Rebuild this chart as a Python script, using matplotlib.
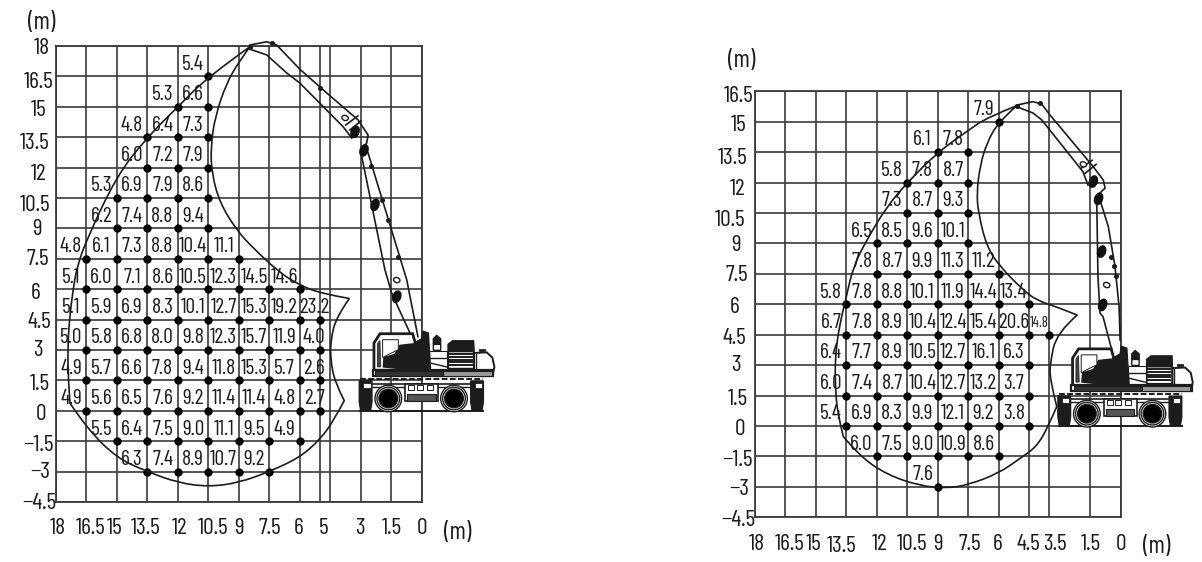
import matplotlib
matplotlib.use('Agg')
import matplotlib.pyplot as plt
from matplotlib.patches import Circle, Ellipse, PathPatch, Polygon, Rectangle
from matplotlib.path import Path
from matplotlib.transforms import ScaledTranslation

plt.rcParams['font.family'] = ['Barlow Condensed', 'Liberation Sans Narrow', 'DejaVu Sans']

# left chart - lifting capacity per row, first value sits at column index LEFT_START
LEFT_ROWS = [16.5, 15, 13.5, 12, 10.5, 9, 7.5, 6, 4.5, 3, 1.5, 0, -1.5, -3]
LEFT_COLS = [16.5, 15, 13.5, 12, 10.5, 9, 7.5, 6, 5]
LEFT_START = [4, 3, 2, 2, 1, 1, 0, 0, 0, 0, 0, 0, 1, 2]
LEFT_VALUES = [
	[5.4],
	[5.3, 6.6],
	[4.8, 6.4, 7.3],
	[6.0, 7.2, 7.9],
	[5.3, 6.9, 7.9, 8.6],
	[6.2, 7.4, 8.8, 9.4],
	[4.8, 6.1, 7.3, 8.8, 10.4, 11.1],
	[5.1, 6.0, 7.1, 8.6, 10.5, 12.3, 14.5, 14.6],
	[5.1, 5.9, 6.9, 8.3, 10.1, 12.7, 15.3, 19.2, 23.2],
	[5.0, 5.8, 6.8, 8.0, 9.8, 12.3, 15.7, 11.9, 4.0],
	[4.9, 5.7, 6.6, 7.8, 9.4, 11.8, 15.3, 5.7, 2.6],
	[4.9, 5.6, 6.5, 7.6, 9.2, 11.4, 11.4, 4.8, 2.7],
	[5.5, 6.4, 7.5, 9.0, 11.1, 9.5, 4.9],
	[6.3, 7.4, 8.9, 10.7, 9.2],
]

# right chart
RIGHT_ROWS = [15, 13.5, 12, 10.5, 9, 7.5, 6, 4.5, 3, 1.5, 0, -1.5, -3]
RIGHT_COLS = [13.5, 12, 10.5, 9, 7.5, 6, 4.5, 3.5]
RIGHT_START = [5, 3, 2, 2, 1, 1, 0, 0, 0, 0, 0, 1, 3]
RIGHT_VALUES = [
	[7.9],
	[6.1, 7.8],
	[5.8, 7.8, 8.7],
	[7.3, 8.7, 9.3],
	[6.5, 8.5, 9.6, 10.1],
	[7.8, 8.7, 9.9, 11.3, 11.2],
	[5.8, 7.8, 8.8, 10.1, 11.9, 14.4, 13.4],
	[6.7, 7.8, 8.9, 10.4, 12.4, 15.4, 20.6, 14.8],
	[6.4, 7.7, 8.9, 10.5, 12.7, 16.1, 6.3],
	[6.0, 7.4, 8.7, 10.4, 12.7, 13.2, 3.7],
	[5.4, 6.9, 8.3, 9.9, 12.1, 9.2, 3.8],
	[6.0, 7.5, 9.0, 10.9, 8.6],
	[7.6],
]

LEFT_XTICKS = [18, 16.5, 15, 13.5, 12, 10.5, 9, 7.5, 6, 5, 4.5, 3, 1.5, 0]
LEFT_XLABELS = ['18', '16.5', '15', '13.5', '12', '10.5', '9', '7.5', '6', '5', '', '3', '1.5', '0']
LEFT_YTICKS = [18, 16.5, 15, 13.5, 12, 10.5, 9, 7.5, 6, 4.5, 3, 1.5, 0, -1.5, -3, -4.5]
RIGHT_XTICKS = [18, 16.5, 15, 13.5, 12, 10.5, 9, 7.5, 6, 4.5, 3.5, 1.5, 0]
RIGHT_XLABELS = ['18', '16.5', '15', '13.5', '12', '10.5', '9', '7.5', '6', '4.5', '3.5', '1.5', '0']
RIGHT_YTICKS = [16.5, 15, 13.5, 12, 10.5, 9, 7.5, 6, 4.5, 3, 1.5, 0, -1.5, -3, -4.5]

# working range outlines (radius, height)
LEFT_ENV_X = [8.45, 10.5, 12, 13.5, 15, 16.5, 16.95, 17.15, 17.33, 17.41, 17.38, 17.3, 16.48, 15, 13.5, 12,
	10.5, 9, 7.5, 6, 5, 4.37, 3.82, 4.28, 4.49, 4.49, 4.2, 3.57, 5, 6, 6.98, 8.3, 9.1, 9.93, 10.33, 10.38,
	10.17, 9.6, 8.94, 8.45]
LEFT_ENV_Y = [17.97, 16.5, 15, 13.5, 11.6, 8.4, 7.1, 5.96, 4.48, 3.0, 1.5, 0.38, -0.85, -2.33, -3.0, -3.55,
	-3.75, -3.55, -3.0, -2.3, -1.4, -0.53, 0.5, 1.4, 2.5, 3.5, 4.65, 5.54, 5.8, 6.2, 6.8, 8.03, 8.9, 10.25, 11.7,
	13.04, 14.5, 16.2, 17.3, 17.97]
LEFT_CUSPS = [11, 22, 27]
RIGHT_ENV_X = [5.11, 6.59, 7.51, 9, 10.5, 11.52, 12.5, 13.16, 13.52, 13.85, 14.03, 14.06, 13.95, 13.65, 12.83,
	11.5, 9.88, 8.56, 7.5, 6, 4.95, 4.13, 3.56, 3.14, 3.47, 3.47, 3.14, 2.13, 3.14, 4.13, 4.79, 5.94, 6.59, 7.0,
	7.08, 6.92, 6.59, 6, 5.11]
RIGHT_ENV_Y = [15.79, 15.2, 14.56, 13.5, 12, 10.8, 9.17, 7.86, 6.3, 4.9, 3.6, 2.27, 0.64, -0.52, -1.5,
	-2.4, -2.95, -3.07, -2.9, -2.33, -1.6, -1.02, -0.03, 0.96, 2.27, 3.1, 4.6, 5.47, 5.87, 6.2, 6.7, 7.86, 8.84,
	10.5, 11.5, 12.8, 13.95, 15, 15.79]
RIGHT_CUSPS = [13, 23, 27]

LEFT_BOOM = [
	[(8.45, 18.05), (7.63, 18.21), (7.14, 18.05), (6, 16.85), (4.62, 15.63), (3.14, 14.35), (2.65, 13.61),
		(2.72, 13.21), (2.9, 12.97)],
	[(8.45, 17.84), (7.63, 17.56), (6.65, 16.67), (6, 16.17), (3.88, 14.02), (3.45, 13.46)],
	[(2.65, 12.72), (0.75, 6.46), (0.2, 3.66)],
	[(2.96, 12.54), (1.82, 6.95), (1.49, 5.81), (1.18, 5.12), (0.59, 3.84)],
	[(3.75, 14.1), (3.15, 14.55)],
	[(3.55, 13.85), (3.0, 14.3)],
]
LEFT_BLOBS = [(3.29, 13.77), (2.31, 10.16), (1.24, 5.63), (2.85, 12.85)]
LEFT_RINGS = [(3.78, 14.45), (1.24, 6.45)]
LEFT_PINS = [(8.45, 17.97), (7.38, 18.15), (5.0, 15.95), (2.5, 12.1), (1.95, 10.4), (1.65, 9.4), (1.2, 7.6)]
RIGHT_BOOM = [
	[(5.11, 15.82), (4.31, 15.99), (3.88, 15.87), (3.47, 15.33), (1.34, 12.78), (0.85, 12.13), (0.76, 11.73),
		(1.01, 11.49)],
	[(5.11, 15.74), (4.31, 15.43), (3.88, 15.09), (1.85, 12.54), (1.6, 11.88)],
	[(1.01, 11.14), (0.6, 9.83), (0.27, 7.86), (0.07, 5.88), (0.02, 4.24)],
	[(1.17, 11.14), (1.11, 7.36), (1.01, 5.57), (0.86, 5.39), (0.43, 3.75)],
	[(1.95, 12.7), (1.4, 13.1)],
	[(1.75, 12.45), (1.2, 12.9)],
]
RIGHT_BLOBS = [(1.34, 12.05), (0.93, 8.6), (0.88, 5.97), (1.08, 11.2)]
RIGHT_RINGS = [(1.83, 12.9), (0.68, 6.95)]
RIGHT_PINS = [(5.11, 15.79), (3.98, 15.9), (0.45, 8.35), (0.3, 7.9), (0.2, 7.4)]

INK = '#1c1c1c'
GRID = '#3a3a3a'


def smooth_line(ax, xs, ys, cusps, **kw):
	# quadratic spline through the read points, sharp only at the cusps
	stops = [0] + cusps + [len(xs) - 1]
	verts, codes = [(xs[0], ys[0])], [Path.MOVETO]
	for a, b in zip(stops[:-1], stops[1:]):
		for i in range(a + 1, b):
			verts.append((xs[i], ys[i]))
			codes.append(Path.CURVE3)
			if i < b - 1:
				verts.append(((xs[i] + xs[i + 1]) / 2, (ys[i] + ys[i + 1]) / 2))
			else:
				verts.append((xs[b], ys[b]))
			codes.append(Path.CURVE3)
		if b == a + 1:
			verts.append((xs[b], ys[b]))
			codes.append(Path.LINETO)
	ax.add_patch(PathPatch(Path(verts, codes), fc='none', ec=INK, clip_on=False, **kw))


def mach(points):
	# machine outline was measured in pixels of a 3x crop
	return [((366 - a) / 61, (422 - b) / 61) for a, b in points]


def draw_machine(ax):
	def poly(points, fc='white', lw=1.0, z=5):
		ax.add_patch(Polygon(mach(points), closed=True, fc=fc, ec=INK, lw=lw, clip_on=False, zorder=z))

	def seg(points, lw=1.0, z=7, **kw):
		ax.plot(*zip(*mach(points)), color=INK, lw=lw, clip_on=False, zorder=z, **kw)

	# upper structure
	poly([(222, 300), (222, 218), (240, 190), (338, 190), (345, 215), (350, 300)], lw=2.0)
	poly([(250, 290), (252, 262), (285, 252), (300, 225), (345, 220), (352, 300)], fc=INK, z=6)
	poly([(248, 208), (295, 208), (295, 238), (270, 250), (248, 262)], z=6, lw=0.7)
	poly([(232, 290), (232, 220), (240, 210), (242, 290)], fc='#444444', z=6, lw=0.5)
	poly([(345, 300), (348, 215), (365, 205), (368, 182), (385, 188), (392, 300)], fc=INK, z=6)
	poly([(388, 300), (388, 242), (442, 242), (442, 300)], lw=0.8)
	seg([(390, 262), (440, 262)])
	seg([(390, 278), (440, 290)])
	poly([(400, 240), (400, 205), (410, 195), (422, 205), (422, 240)], lw=1.0)
	poly([(401, 222), (421, 222), (421, 207), (410, 198), (401, 207)], fc=INK, z=6)
	poly([(445, 295), (445, 222), (458, 212), (520, 212), (522, 295)], lw=1.2)
	poly([(445, 244), (445, 222), (458, 212), (520, 212), (522, 244)], fc=INK, z=6)
	for y in [252, 260, 268, 276, 284]:
		seg([(450, y), (515, y)], lw=1.4)
	poly([(522, 312), (522, 248), (560, 246), (577, 262), (583, 290), (578, 315)], lw=1.4)
	seg([(528, 250), (528, 298)])
	seg([(540, 240), (552, 240)], lw=2)
	poly([(218, 318), (218, 298), (580, 298), (580, 318)], lw=1.6, z=7)
	poly([(225, 316), (225, 302), (430, 302), (430, 316)], fc='#333333', lw=0.8, z=7)
	poly([(430, 316), (430, 302), (575, 302), (575, 316)], fc='#999999', lw=0.8, z=7)

	# carrier
	seg([(180, 326), (550, 326)], lw=1.4, z=5, ls=(0, (3, 1.2)))
	seg([(215, 340), (510, 340)], lw=1.2, z=5)
	seg([(215, 350), (510, 350)], lw=1.0, z=5)
	poly([(315, 392), (315, 340), (415, 340), (415, 392)], lw=1.2)
	poly([(322, 392), (322, 370), (408, 370), (408, 392)], fc='#555555', lw=0.8)
	for x in [325, 350, 380]:
		ax.add_patch(Rectangle(mach([(x, 358)])[0], -18 / 61, 15 / 61, fc='white', ec=INK, lw=0.7,
			clip_on=False, zorder=6))
	for x0 in [178, 512]:
		x1 = x0 + 38
		poly([(x0, 332), (x1, 332), (x1, 395), (x1 - 4, 420), (x0 + 4, 420), (x0, 395)], fc=INK)
		poly([(x0 + 12, 337), (x1 - 4, 337), (x1 - 4, 354), (x0 + 12, 354)], z=6, lw=0.6)
	seg([(180, 422), (550, 422)], lw=1.4, z=6)

	# wheels
	for wx in [265, 462]:
		c = mach([(wx, 385)])[0]
		for r, fc in [(40, 'white'), (34, 'white'), (28, 'black')]:
			ax.add_patch(Circle(c, r / 61, fc=fc, ec=INK, lw=1.0, clip_on=False, zorder=8))


def setup_axes(px_left, px_right, px_top, px_bottom, ylim, xticks, xlabels, yticks, xlab_px, ylab_px, xlab_y):
	ax = fig.add_axes([px_left / W, 1 - px_bottom / H, (px_right - px_left) / W, (px_bottom - px_top) / H])
	ax.set_xlim(18, 0)
	ax.set_ylim(*ylim)
	ax.set_xticks(xticks)
	ax.set_xticklabels(xlabels)
	ax.set_yticks(yticks)
	ax.set_yticklabels(['%g' % v if v >= 0 else '\u2212%g' % -v for v in yticks])
	ax.grid(True, color=GRID, lw=1.2)
	ax.set_axisbelow(True)
	ax.tick_params(length=0, labelsize=17, pad=0, colors=INK)
	for s in ax.spines.values():
		s.set_color(GRID)
		s.set_linewidth(1.3)

	# labels in the original are hand placed, so nudge each to where it was drawn
	sx = (px_right - px_left) / 18
	sy = (px_bottom - px_top) / (ylim[1] - ylim[0])
	for t, v, cx, cy in zip(ax.get_xticklabels(), xticks, xlab_px, xlab_y):
		grid_x = px_right - v * sx
		t.set_verticalalignment('center')
		t.set_transform(t.get_transform() + ScaledTranslation((cx - grid_x) / 100, (px_bottom - cy) / 100,
			fig.dpi_scale_trans))
	for t, v, (cx, cy) in zip(ax.get_yticklabels(), yticks, ylab_px):
		grid_y = px_top + (ylim[1] - v) * sy
		t.set_horizontalalignment('center')
		t.set_transform(t.get_transform() + ScaledTranslation((cx - px_left) / 100, (grid_y - cy) / 100,
			fig.dpi_scale_trans))
	return ax


def draw_chart(ax, rows, cols, starts, values, env_x, env_y, cusps, boom, blobs, rings, pins):
	for y, start, vals in zip(rows, starts, values):
		for i, v in enumerate(vals):
			col = start + i
			x = cols[col]
			left = cols[col - 1] if col > 0 else x + 1.5
			size = 15.5
			dx = 0
			if x == 3.5:
				size = 10.5
			if x == 5:
				dx = -0.2
			ax.plot(x, y, 'o', color='black', ms=5, zorder=3, clip_on=False)
			ax.text((x + left) / 2 + dx, y + 0.6, '%.1f' % v, ha='center', va='center', fontsize=size,
				color=INK, zorder=4)
	smooth_line(ax, env_x, env_y, cusps, lw=1.2, zorder=3)
	for seg in boom:
		ax.plot(*zip(*seg), color=INK, lw=1.2, zorder=3, clip_on=False)
	for x, y in blobs:
		ax.add_patch(Ellipse((x, y), 0.45, 0.65, angle=20, fc='#111111', ec='none', zorder=4, clip_on=False))
	for x, y in rings:
		ax.add_patch(Ellipse((x, y), 0.32, 0.25, angle=20, fc='white', ec=INK, lw=1.0, zorder=4, clip_on=False))
	ax.plot(*zip(*pins), 'o', color=INK, ms=2.6, zorder=4, clip_on=False)
	draw_machine(ax)


W, H = 1202, 562
fig = plt.figure(figsize=(W / 100, H / 100), dpi=100, facecolor='white')

left_xlab = [57.3, 90.7, 115, 146, 180, 213.3, 239, 270, 299, 323.3, 330, 360, 391.7, 422.3]
left_ylab = [(41.7, 46), (39, 80), (39, 108), (35, 140.7), (39, 172), (35, 202.7), (36.7, 226.7), (38.3, 256.7),
	(36, 290.7), (39.3, 320), (38.3, 348), (40, 381.7), (40.7, 411.7), (38, 442.7), (40.7, 470), (39.3, 500.7)]
right_xlab = [756.7, 789.3, 814, 841.7, 880, 912.3, 938.3, 970, 997.7, 1028.3, 1055, 1090.7, 1120.7]
right_ylab = [(738.3, 94), (739, 122.7), (733, 155.7), (738, 186.7), (730, 217.7), (736, 243.3), (737.3, 273.3),
	(735, 305), (734, 336), (736, 363), (737.3, 396.7), (740, 426.7), (737.3, 458.3), (739.3, 486.7), (738.3, 518.3)]

ax1 = setup_axes(55.7, 422, 46, 502, (-4.5, 18), LEFT_XTICKS, LEFT_XLABELS, LEFT_YTICKS, left_xlab, left_ylab,
	[529] * len(LEFT_XTICKS))
ax2 = setup_axes(755, 1120.5, 91.3, 517.3, (-4.5, 16.5), RIGHT_XTICKS, RIGHT_XLABELS, RIGHT_YTICKS, right_xlab,
	right_ylab, [545, 545, 545, 547, 545, 545, 545, 545, 545, 545, 545, 545, 545])

draw_chart(ax1, LEFT_ROWS, LEFT_COLS, LEFT_START, LEFT_VALUES, LEFT_ENV_X, LEFT_ENV_Y, LEFT_CUSPS, LEFT_BOOM,
	LEFT_BLOBS, LEFT_RINGS, LEFT_PINS)
draw_chart(ax2, RIGHT_ROWS, RIGHT_COLS, RIGHT_START, RIGHT_VALUES, RIGHT_ENV_X, RIGHT_ENV_Y, RIGHT_CUSPS, RIGHT_BOOM,
	RIGHT_BLOBS, RIGHT_RINGS, RIGHT_PINS)

for px, py in [(41.7, 22), (458, 532), (741.7, 61), (1156.7, 546.7)]:
	fig.text(px / W, 1 - py / H, '(m)', ha='center', va='center', fontsize=18, color=INK)

fig.savefig('out.png', dpi=100, facecolor='white')
